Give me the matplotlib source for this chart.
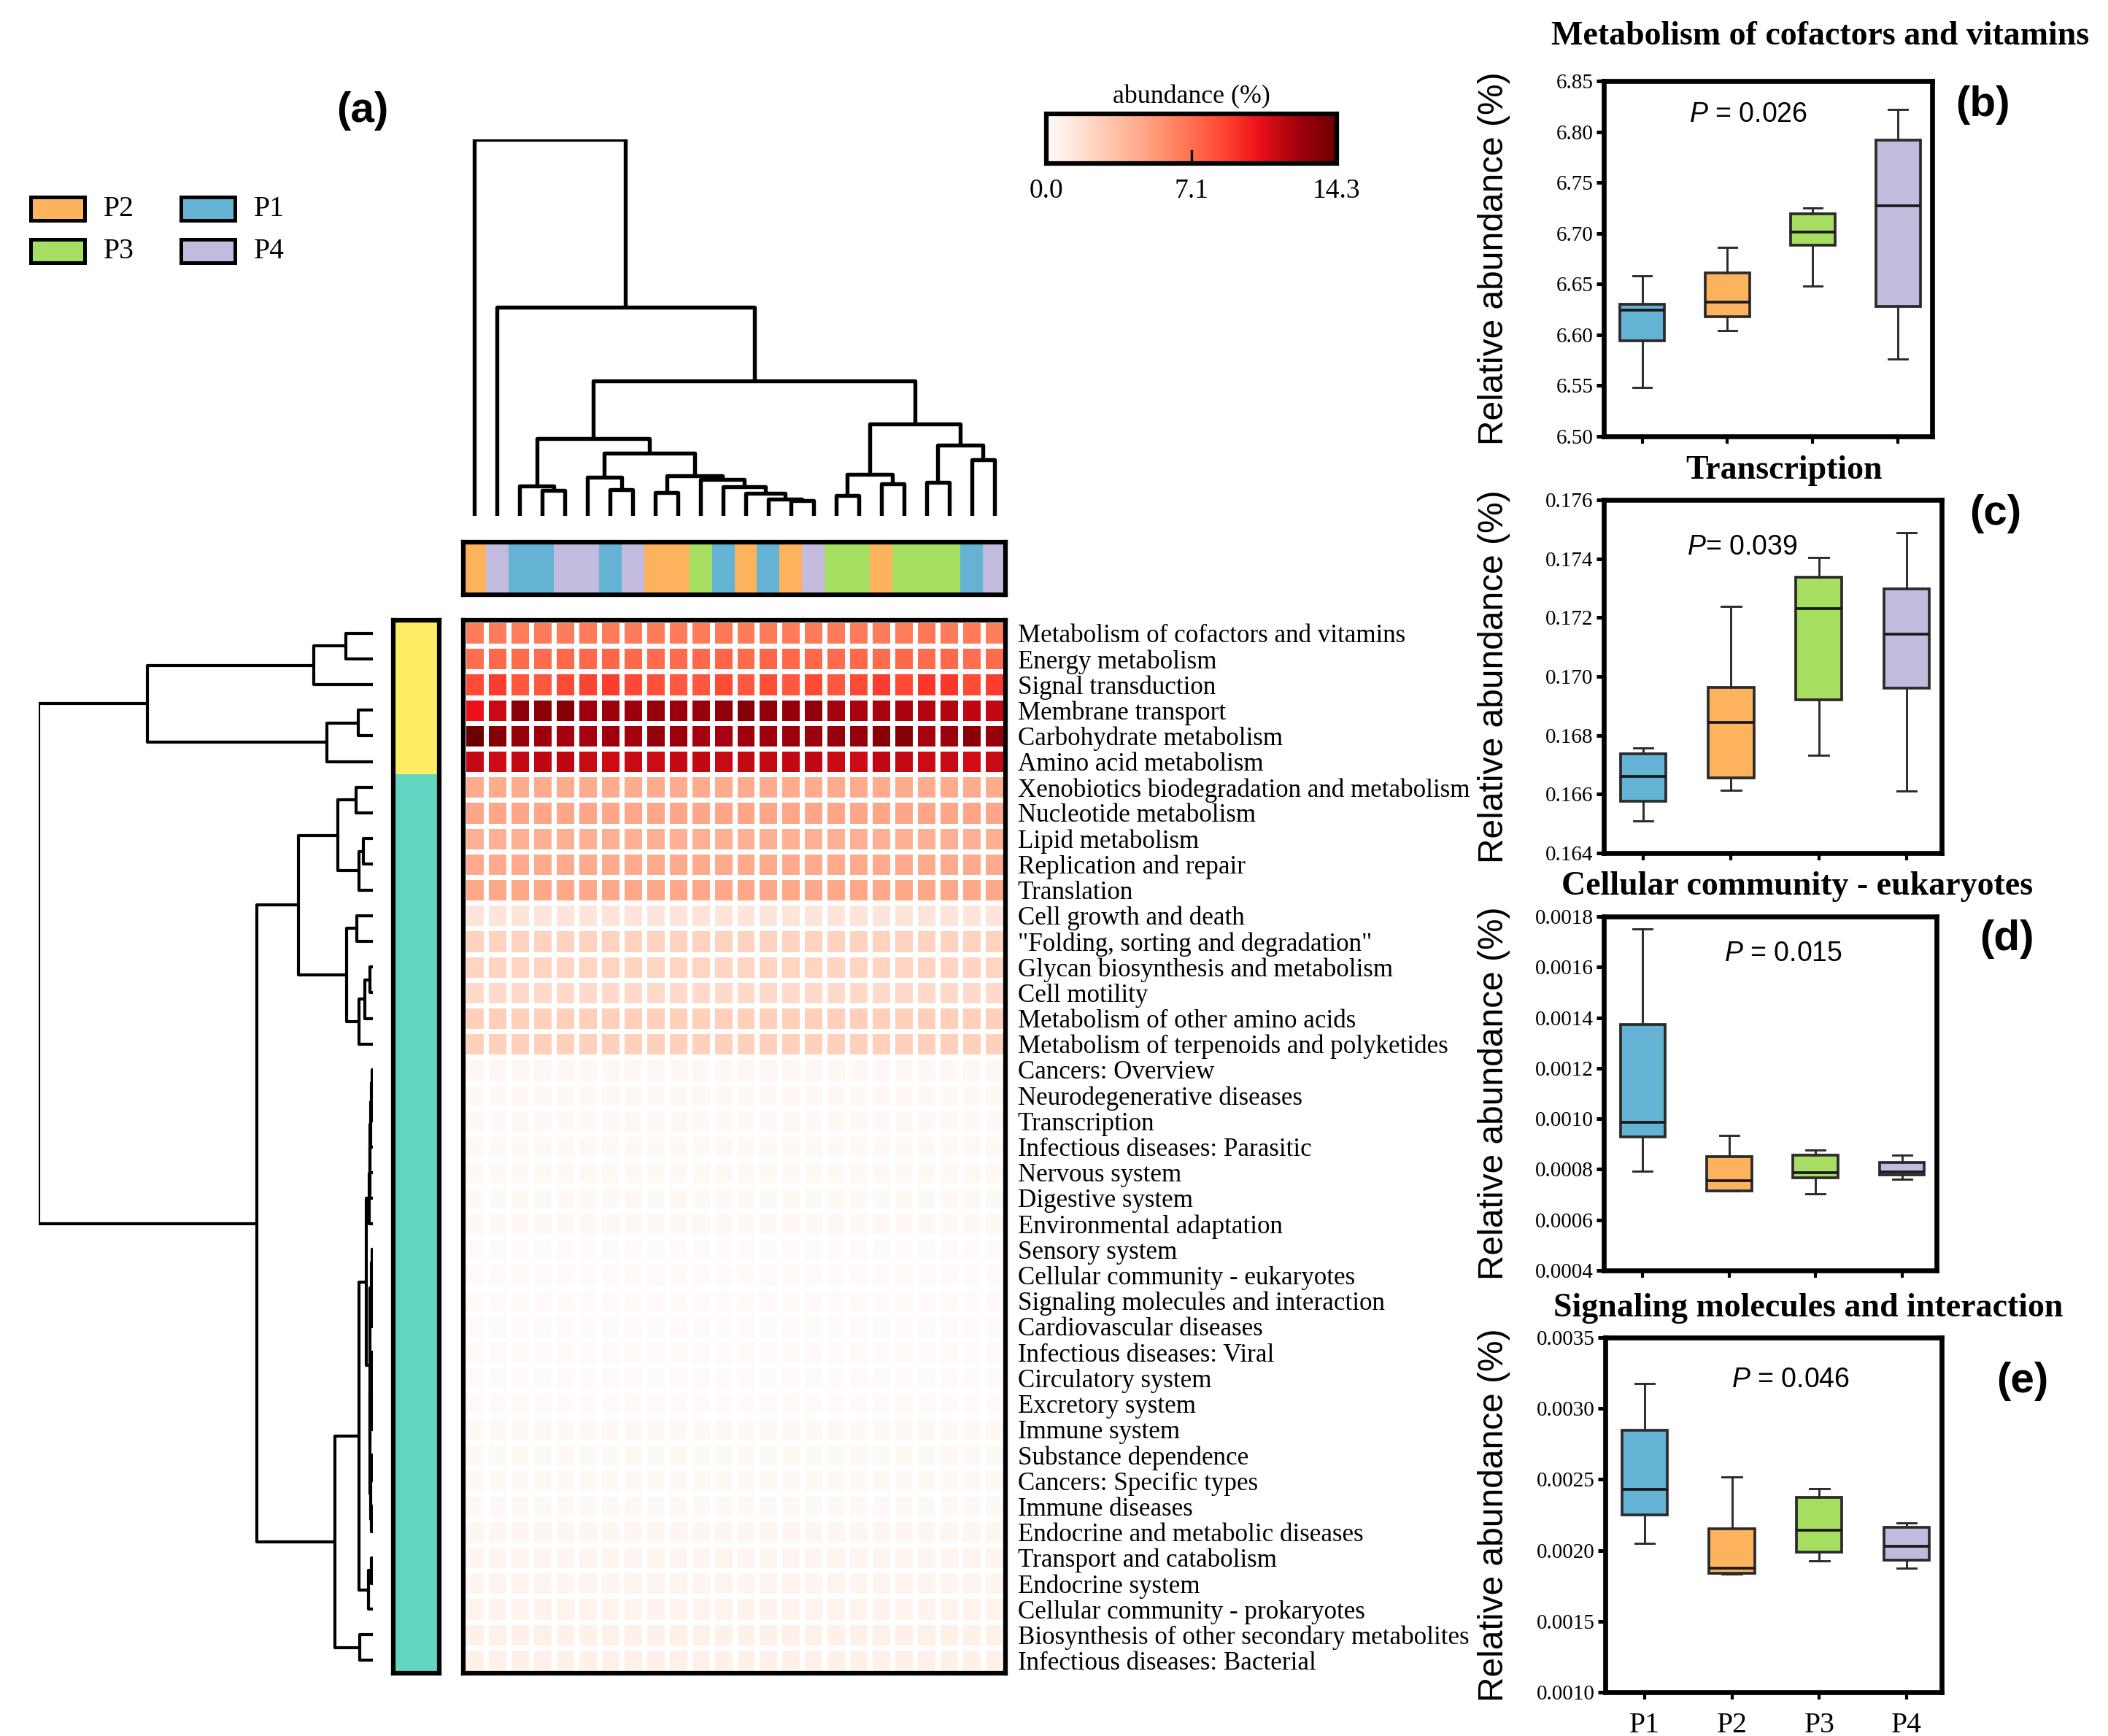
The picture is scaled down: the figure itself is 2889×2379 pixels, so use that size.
import numpy as np
import matplotlib
matplotlib.use('Agg')
import matplotlib.pyplot as plt
from matplotlib.colors import LinearSegmentedColormap, ListedColormap
from matplotlib.patches import Rectangle

W, H = 2889, 2379
DPI = 300

plt.rcParams['font.family'] = ['Liberation Serif', 'DejaVu Serif']
plt.rcParams['mathtext.fontset'] = 'custom'
plt.rcParams['mathtext.it'] = 'Liberation Sans:italic'
plt.rcParams['mathtext.rm'] = 'Liberation Sans'

# ---------------- data ----------------
pathways = [
    "Metabolism of cofactors and vitamins", "Energy metabolism", "Signal transduction",
    "Membrane transport", "Carbohydrate metabolism", "Amino acid metabolism",
    "Xenobiotics biodegradation and metabolism", "Nucleotide metabolism", "Lipid metabolism",
    "Replication and repair", "Translation", "Cell growth and death",
    "\"Folding, sorting and degradation\"", "Glycan biosynthesis and metabolism", "Cell motility",
    "Metabolism of other amino acids", "Metabolism of terpenoids and polyketides",
    "Cancers: Overview", "Neurodegenerative diseases", "Transcription",
    "Infectious diseases: Parasitic", "Nervous system", "Digestive system",
    "Environmental adaptation", "Sensory system", "Cellular community - eukaryotes",
    "Signaling molecules and interaction", "Cardiovascular diseases", "Infectious diseases: Viral",
    "Circulatory system", "Excretory system", "Immune system", "Substance dependence",
    "Cancers: Specific types", "Immune diseases", "Endocrine and metabolic diseases",
    "Transport and catabolism", "Endocrine system", "Cellular community - prokaryotes",
    "Biosynthesis of other secondary metabolites", "Infectious diseases: Bacterial",
]

sample_groups = ['P2', 'P4', 'P1', 'P1', 'P4', 'P4', 'P1', 'P4', 'P2', 'P2', 'P3', 'P1',
                 'P2', 'P1', 'P2', 'P4', 'P3', 'P3', 'P2', 'P3', 'P3', 'P3', 'P1', 'P4']
group_colors = {'P1': '#64B2D4', 'P2': '#FDB35E', 'P3': '#A5DE60', 'P4': '#C3BBDD'}

row_clusters = ['A'] * 6 + ['B'] * 35
cluster_colors = {'A': '#FFEC64', 'B': '#62D5C3'}

# per-sample abundance (%) of the six dominant pathways
cofactors = [6.62, 6.70, 6.62, 6.60, 6.64, 6.66, 6.75, 6.66, 6.63, 6.60, 6.70, 6.80,
             6.60, 6.62, 6.72, 6.70, 6.72, 6.65, 6.70, 6.62, 6.82, 6.70, 6.66, 6.58]
energy = [7.2, 7.4, 7.3, 7.3, 7.4, 7.4, 7.5, 7.4, 7.3, 7.3, 7.4, 7.5,
          7.3, 7.5, 7.4, 7.4, 7.3, 7.4, 7.3, 7.4, 7.3, 7.4, 7.2, 7.3]
signal = [8.6, 9.0, 8.0, 8.0, 8.5, 8.8, 9.0, 8.6, 8.3, 8.0, 8.0, 8.6,
          8.0, 8.4, 8.0, 8.6, 8.0, 8.6, 9.0, 8.6, 9.2, 9.2, 8.6, 9.0]
membrane = [10.5, 11.3, 13.2, 13.2, 13.4, 12.5, 12.6, 12.6, 12.8, 12.6, 12.8, 13.0,
            13.3, 13.0, 12.8, 13.0, 12.3, 12.2, 12.2, 12.2, 11.9, 11.9, 11.6, 11.5]
carbohydrate = [14.3, 13.3, 12.8, 12.5, 12.3, 12.3, 12.5, 12.3, 12.8, 12.6, 12.3, 12.3,
                12.5, 12.6, 12.6, 12.6, 12.8, 12.8, 13.3, 13.4, 12.3, 12.6, 13.2, 12.8]
amino = [11.4, 11.2, 11.4, 11.6, 11.6, 11.3, 11.2, 11.3, 11.2, 11.4, 11.5, 11.3,
         11.4, 11.4, 11.5, 11.5, 11.3, 11.2, 11.5, 11.4, 11.2, 11.3, 11.1, 11.3]
# the remaining pathways look uniform across samples
minor_levels = [4.5, 4.8, 4.3, 4.6, 4.7, 1.4, 2.4, 2.3, 2.0, 2.6, 2.5,
                0.25, 0.2, 0.17, 0.1, 0.12, 0.08, 0.18, 0.05, 0.001, 0.002, 0.03,
                0.05, 0.02, 0.05, 0.06, 0.07, 0.15, 0.1, 0.3, 0.4, 0.45, 0.55, 0.8, 0.7]

# dendrograms: (child a, child b, height); leaves are 0..n-1
col_linkage = [
    (3, 4, 100), (2, 24, 115), (6, 7, 102), (5, 26, 150), (8, 9, 90), (14, 15, 58),
    (13, 29, 65), (12, 30, 88), (11, 31, 112), (10, 32, 140), (28, 33, 155), (27, 34, 242),
    (25, 35, 300), (16, 17, 80), (18, 19, 125), (37, 38, 160), (20, 21, 130), (22, 23, 217),
    (40, 41, 275), (39, 42, 357), (36, 43, 523), (1, 44, 808), (0, 45, 1458),
]
row_linkage = [
    (0, 1, 92), (41, 2, 202), (3, 4, 50), (43, 5, 157), (42, 44, 772),
    (6, 7, 57), (8, 9, 32), (47, 10, 47), (46, 48, 120), (11, 12, 55), (13, 14, 9),
    (51, 15, 27), (52, 16, 47), (50, 53, 90), (49, 54, 254),
    (17, 18, 3), (56, 19, 5), (57, 20, 7), (58, 21, 9), (59, 22, 11), (60, 23, 13),
    (24, 25, 2), (26, 27, 3), (62, 63, 5), (28, 29, 2), (30, 31, 4), (65, 66, 6),
    (32, 33, 3), (34, 35, 4), (68, 69, 7), (67, 70, 9), (64, 71, 11), (61, 72, 22),
    (36, 37, 4), (74, 38, 15), (73, 75, 47), (39, 40, 44), (76, 77, 129),
    (55, 78, 397), (45, 79, 1144),
]

groups = ['P1', 'P2', 'P3', 'P4']
# whisker low, q1, median, q3, whisker high
cofactor_box = [[6.548, 6.594, 6.624, 6.630, 6.658], [6.604, 6.618, 6.632, 6.661, 6.686],
                [6.648, 6.688, 6.701, 6.719, 6.725], [6.576, 6.628, 6.727, 6.792, 6.822]]
transcription_box = [[0.16509, 0.16576, 0.16661, 0.16737, 0.16758],
                     [0.16613, 0.16655, 0.16845, 0.16963, 0.17238],
                     [0.16732, 0.16921, 0.17230, 0.17336, 0.17405],
                     [0.16610, 0.16960, 0.17143, 0.17297, 0.17489]]
eukaryote_box = [[0.000794, 0.000928, 0.000987, 0.001374, 0.001752],
                 [0.000714, 0.000716, 0.000756, 0.000850, 0.000933],
                 [0.000703, 0.000767, 0.000788, 0.000856, 0.000875],
                 [0.000761, 0.000779, 0.000789, 0.000826, 0.000856]]
signaling_box = [[0.002047, 0.002252, 0.002429, 0.002848, 0.003174],
                 [0.001835, 0.001839, 0.001876, 0.002151, 0.002520],
                 [0.001926, 0.001990, 0.002141, 0.002373, 0.002435],
                 [0.001876, 0.001930, 0.002027, 0.002163, 0.002192]]

vmax = 14.3
heat_cmap = LinearSegmentedColormap.from_list('abund', [
    (0.0, '#FFFAF7'), (0.07, '#FFEDE4'), (0.175, '#FFD0BC'), (0.315, '#FFAC8E'),
    (0.47, '#FF7A58'), (0.6, '#FF4A35'), (0.73, '#EE1118'), (0.79, '#C80A14'),
    (0.875, '#A0000E'), (1.0, '#6B0000')])


def frac(l, t, r, b):
    """pixel box (left, top, right, bottom) -> figure fraction rect"""
    return [l / W, 1 - b / H, (r - l) / W, (b - t) / H]


def dendro_segments(linkage, n):
    pos = {i: float(i) for i in range(n)}
    hgt = {i: 0.0 for i in range(n)}
    segs = []
    for k, (a, b, h) in enumerate(linkage):
        segs.append(([pos[a], pos[a], pos[b], pos[b]], [hgt[a], h, h, hgt[b]]))
        pos[n + k] = (pos[a] + pos[b]) / 2
        hgt[n + k] = h
    return segs


fig = plt.figure(figsize=(W / DPI, H / DPI), dpi=DPI)

n_rows, n_cols = len(pathways), len(sample_groups)
data = np.vstack([cofactors, energy, signal, membrane, carbohydrate, amino] +
                 [np.full(n_cols, v) for v in minor_levels])

HL, HR, HT, HB = 635, 1378, 850, 2293

# heatmap
ax_h = fig.add_axes(frac(HL, HT, HR, HB))
ax_h.pcolormesh(np.arange(n_cols + 1) - 0.5, np.arange(n_rows + 1) - 0.5, data,
                cmap=heat_cmap, vmin=0, vmax=vmax, edgecolors='white', linewidth=1.6)
ax_h.set_xlim(-0.5, n_cols - 0.5)
ax_h.set_ylim(n_rows - 0.5, -0.5)
ax_h.set_xticks([])
ax_h.yaxis.tick_right()
ax_h.set_yticks(range(n_rows))
ax_h.set_yticklabels(pathways, fontsize=8.4)
ax_h.tick_params(axis='y', length=0, pad=4)
for s in ax_h.spines.values():
    s.set_linewidth(1.5)

# column annotation bar
ax_c = fig.add_axes(frac(HL, 743, HR, 815))
grp_idx = [groups.index(g) for g in sample_groups]
ax_c.pcolormesh(np.arange(n_cols + 1) - 0.5, [0, 1], [grp_idx],
                cmap=ListedColormap([group_colors[g] for g in groups]), vmin=-0.5, vmax=3.5)
ax_c.set_xlim(-0.5, n_cols - 0.5)
ax_c.set_xticks([])
ax_c.set_yticks([])
for s in ax_c.spines.values():
    s.set_linewidth(1.5)

# row annotation bar
ax_r = fig.add_axes(frac(539, HT, 602, HB))
clu_idx = [[0 if c == 'A' else 1] for c in row_clusters]
ax_r.pcolormesh([0, 1], np.arange(n_rows + 1) - 0.5, clu_idx,
                cmap=ListedColormap([cluster_colors['A'], cluster_colors['B']]), vmin=-0.5, vmax=1.5)
ax_r.set_ylim(n_rows - 0.5, -0.5)
ax_r.set_xticks([])
ax_r.set_yticks([])
for s in ax_r.spines.values():
    s.set_linewidth(1.5)

# column dendrogram
ax_cd = fig.add_axes(frac(HL, 191, HR, 707))
for xs, ys in dendro_segments(col_linkage, n_cols):
    ax_cd.plot(xs, ys, color='black', lw=1.3, solid_capstyle='butt')
ax_cd.set_xlim(-0.5, n_cols - 0.5)
ax_cd.set_ylim(0, col_linkage[-1][2])
ax_cd.axis('off')

# row dendrogram
ax_rd = fig.add_axes(frac(53, HT, 511, HB))
for xs, ys in dendro_segments(row_linkage, n_rows):
    ax_rd.plot(ys, xs, color='black', lw=1.0, solid_capstyle='butt')
ax_rd.set_xlim(row_linkage[-1][2], 0)
ax_rd.set_ylim(n_rows - 0.5, -0.5)
ax_rd.axis('off')

# colour bar
ax_cb = fig.add_axes(frac(1434, 156, 1832, 224))
sm = plt.cm.ScalarMappable(cmap=heat_cmap, norm=plt.Normalize(0, vmax))
cb = fig.colorbar(sm, cax=ax_cb, orientation='horizontal', ticks=[0, vmax / 2, vmax])
cb.ax.set_xticklabels(['0.0', '7.1', '14.3'], fontsize=9)
cb.ax.tick_params(direction='in', length=4.5, width=0.8, pad=5)
cb.outline.set_linewidth(1.5)

# box plots
panels = [
    (frac(2198, 111, 2648, 598), cofactor_box, (6.50, 6.85), np.arange(6.50, 6.851, 0.05), '%.2f',
     'Metabolism of cofactors and vitamins', (2495, 50), '(b)', (2717, 144), 'P = 0.026', (0.44, 0.905)),
    (frac(2198, 685, 2661, 1169), transcription_box, (0.164, 0.176), np.arange(0.164, 0.1761, 0.002), '%.3f',
     'Transcription', (2445, 645), '(c)', (2735, 704), 'P= 0.039', (0.41, 0.866)),
    (frac(2198, 1256, 2654, 1741), eukaryote_box, (0.0004, 0.0018), np.arange(0.0004, 0.00181, 0.0002), '%.4f',
     'Cellular community - eukaryotes', (2463, 1215), '(d)', (2750, 1287), 'P = 0.015', (0.54, 0.895)),
    (frac(2200, 1833, 2661, 2319), signaling_box, (0.0010, 0.0035), np.arange(0.0010, 0.00351, 0.0005), '%.4f',
     'Signaling molecules and interaction', (2478, 1793), '(e)', (2772, 1893), 'P = 0.046', (0.55, 0.88)),
]

ov = fig.add_axes([0, 0, 1, 1], facecolor='none')
ov.set_xlim(0, W)
ov.set_ylim(H, 0)
ov.axis('off')

for i, (rect, box, ylim, yticks, fmt, title, txy, tag, tagxy, ptxt, pxy) in enumerate(panels):
    ax = fig.add_axes(rect)
    stats = [dict(whislo=b[0], q1=b[1], med=b[2], q3=b[3], whishi=b[4], fliers=[], label=g)
             for g, b in zip(groups, box)]
    bp = ax.bxp(stats, positions=[1, 2, 3, 4], widths=0.52, capwidths=0.22, patch_artist=True,
                showfliers=False,
                boxprops=dict(edgecolor='#2b2b2b', linewidth=0.9),
                medianprops=dict(color='#1a1a1a', linewidth=0.9),
                whiskerprops=dict(color='#2b2b2b', linewidth=0.7),
                capprops=dict(color='#2b2b2b', linewidth=0.7))
    for patch, g in zip(bp['boxes'], groups):
        patch.set_facecolor(group_colors[g])
    ax.set_xlim(0.55, 4.4)
    ax.set_ylim(*ylim)
    ax.set_yticks(yticks)
    ax.set_yticklabels([fmt % v for v in yticks], fontsize=7)
    ax.set_xticks([1, 2, 3, 4])
    if i == len(panels) - 1:
        ax.set_xticklabels(groups, fontsize=9.5)
    else:
        ax.set_xticklabels([])
    ax.tick_params(axis='y', length=2.5, width=1.2, pad=1)
    ax.tick_params(axis='x', length=2.5, width=1.0, pad=4)
    for s in ax.spines.values():
        s.set_linewidth(1.6)
    ax.set_ylabel('Relative abundance (%)', family='Liberation Sans', fontsize=11.5)
    ax.yaxis.set_label_coords((2070 - rect[0] * W) / (rect[2] * W), 0.5)
    ax.text(pxy[0], pxy[1], r'$\it{P}$' + ptxt[1:], transform=ax.transAxes, ha='center', va='center',
            family='Liberation Sans', fontsize=9)
    ov.text(txy[0], txy[1], title, ha='center', va='center', fontsize=11, fontweight='bold')
    ov.text(tagxy[0], tagxy[1], tag, ha='center', va='center', fontsize=14, fontweight='bold',
            family='Liberation Sans')

# panel (a) label, colour bar title and group legend
ov.text(497, 152, '(a)', ha='center', va='center', fontsize=14, fontweight='bold', family='Liberation Sans')
ov.text(1633, 133, 'abundance (%)', ha='center', va='center', fontsize=8.6)
legend_pos = {'P2': (42, 270), 'P3': (42, 328), 'P1': (248, 270), 'P4': (248, 328)}
for g, (x0, y0) in legend_pos.items():
    ov.add_patch(Rectangle((x0, y0), 74, 32, facecolor=group_colors[g], edgecolor='black', lw=1.2))
    ov.text(x0 + 100, y0 + 17, g, ha='left', va='center', fontsize=9.5)

fig.savefig('out.png', dpi=DPI)
